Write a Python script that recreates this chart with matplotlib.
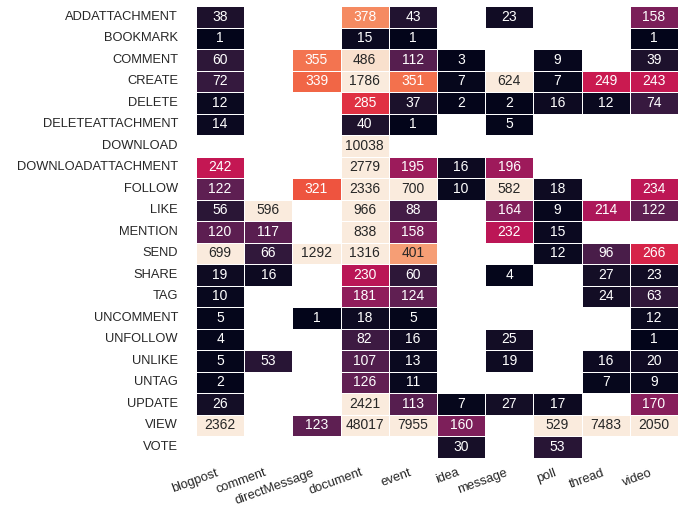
import numpy as np
import pandas as pd
import matplotlib
matplotlib.use("Agg")
import matplotlib.pyplot as plt
import seaborn as sns

nan = np.nan

objects = ["blogpost", "comment", "directMessage", "document", "event",
           "idea", "message", "poll", "thread", "video"]
actions = ["ADDATTACHMENT", "BOOKMARK", "COMMENT", "CREATE", "DELETE",
           "DELETEATTACHMENT", "DOWNLOAD", "DOWNLOADATTACHMENT", "FOLLOW",
           "LIKE", "MENTION", "SEND", "SHARE", "TAG", "UNCOMMENT", "UNFOLLOW",
           "UNLIKE", "UNTAG", "UPDATE", "VIEW", "VOTE"]

counts = [
    [38, nan, nan, 378, 43, nan, 23, nan, nan, 158],
    [1, nan, nan, 15, 1, nan, nan, nan, nan, 1],
    [60, nan, 355, 486, 112, 3, nan, 9, nan, 39],
    [72, nan, 339, 1786, 351, 7, 624, 7, 249, 243],
    [12, nan, nan, 285, 37, 2, 2, 16, 12, 74],
    [14, nan, nan, 40, 1, nan, 5, nan, nan, nan],
    [nan, nan, nan, 10038, nan, nan, nan, nan, nan, nan],
    [242, nan, nan, 2779, 195, 16, 196, nan, nan, nan],
    [122, nan, 321, 2336, 700, 10, 582, 18, nan, 234],
    [56, 596, nan, 966, 88, nan, 164, 9, 214, 122],
    [120, 117, nan, 838, 158, nan, 232, 15, nan, nan],
    [699, 66, 1292, 1316, 401, nan, nan, 12, 96, 266],
    [19, 16, nan, 230, 60, nan, 4, nan, 27, 23],
    [10, nan, nan, 181, 124, nan, nan, nan, 24, 63],
    [5, nan, 1, 18, 5, nan, nan, nan, nan, 12],
    [4, nan, nan, 82, 16, nan, 25, nan, nan, 1],
    [5, 53, nan, 107, 13, nan, 19, nan, 16, 20],
    [2, nan, nan, 126, 11, nan, nan, nan, 7, 9],
    [26, nan, nan, 2421, 113, 7, 27, 17, nan, 170],
    [2362, nan, 123, 48017, 7955, 160, nan, 529, 7483, 2050],
    [nan, nan, nan, nan, nan, 30, nan, 53, nan, nan],
]

df = pd.DataFrame(counts, index=actions, columns=objects)

sns.set_theme(style="white")
plt.rcParams["font.family"] = ["Liberation Sans", "DejaVu Sans"]

fig = plt.figure(figsize=(6.86, 5.08), dpi=100)
ax = fig.add_axes([0.2857, 0.099, 0.7026, 0.889])

sns.heatmap(df, ax=ax, cmap="rocket", vmin=0, vmax=500, annot=True, fmt=".0f",
            annot_kws={"fontsize": 10}, linewidths=0.5, linecolor="white",
            cbar=False)

ax.set_xlabel("")
ax.set_ylabel("")
ax.tick_params(axis="y", labelsize=9.3, rotation=0, pad=7)
ax.tick_params(axis="x", labelsize=9.3, pad=0.5)
plt.setp(ax.get_xticklabels(), rotation=20, ha="right")

fig.savefig("out.png", dpi=100)
